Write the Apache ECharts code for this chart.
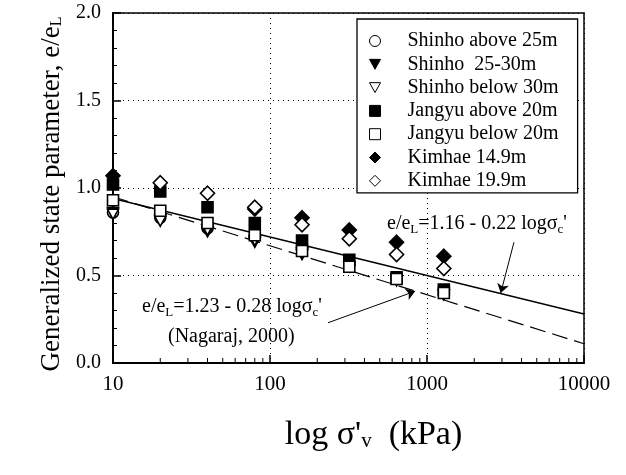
<!DOCTYPE html>
<html>
<head>
<meta charset="utf-8">
<script src="https://cdn.jsdelivr.net/npm/echarts@6/dist/echarts.min.js"></script>
<style>
  html, body { margin: 0; padding: 0; background: #fff; }
  #chart { width: 626px; height: 475px; }
</style>
</head>
<body>
<div id="chart"></div>
<script>
// stress levels (kPa)
const stress = [10, 20, 40, 80, 160, 320, 640, 1280];

// e/eL, null = no point
const shinhoAbove = [0.86, 0.83, 0.77, 0.72, 0.65, 0.56, null, null];
const shinho2530 = [0.86, 0.82, 0.75, 0.69, 0.62, 0.55, 0.47, 0.39];
const shinhoBelow = [0.85, 0.81, 0.76, 0.70, 0.63, null, null, null];
const jangyuAbove = [1.02, 0.98, 0.89, 0.80, 0.70, 0.59, 0.49, 0.42];
const jangyuBelow = [0.93, 0.87, 0.80, 0.73, 0.64, 0.55, 0.48, 0.40];
const kimhae149 = [1.07, null, null, 0.88, 0.83, 0.76, 0.69, 0.61];
const kimhae199 = [null, 1.03, 0.97, 0.89, 0.79, 0.71, 0.62, 0.54];

// fit lines, end points
const fitThisStudy = [[10, 0.94], [10000, 0.28]];   // 1.16 - 0.22 log
const fitNagaraj = [[10, 0.95], [10000, 0.11]];     // 1.23 - 0.28 log

const yTicks = ["0.0", "0.5", "1.0", "1.5", "2.0"];
const xTicks = { 10: "10", 100: "100", 1000: "1000", 10000: "10000" };
const xMinorTicks = [20, 30, 40, 50, 60, 70, 80, 90, 200, 300, 400, 500, 600, 700, 800, 900,
    2000, 3000, 4000, 5000, 6000, 7000, 8000, 9000];

const FONT = "Liberation Serif";
const TRI_DOWN = "path://M0,0L10,0L5,9Z";

function pairs(vals) {
    let out = [];
    vals.forEach((v, i) => { if (v !== null) out.push([stress[i], v]); });
    return out;
}

function scatter(name, vals, symbol, size, filled) {
    return {
        name: name,
        type: "scatter",
        data: pairs(vals),
        symbol: symbol,
        symbolSize: size,
        itemStyle: {
            color: filled ? "#000" : "#fff",
            borderColor: "#000",
            borderWidth: 1.6,
            opacity: 1
        },
        z: 3
    };
}

function legendItem(name, icon, filled) {
    return {
        name: name,
        icon: icon,
        itemStyle: { color: filled ? "#000" : "#fff", borderColor: "#000", borderWidth: 1 }
    };
}

// rich text with a dropped subscript
function subRich(size, subSize, drop) {
    return {
        m: { fontFamily: FONT, fontSize: size, lineHeight: size, verticalAlign: "top", color: "#000" },
        s: { fontFamily: FONT, fontSize: subSize, lineHeight: size, verticalAlign: "top", padding: [drop, 0, 0, 0], color: "#000" }
    };
}

let chart = echarts.init(document.getElementById("chart"));

let option = {
    animation: false,
    textStyle: { fontFamily: FONT, color: "#000" },
    grid: {
        left: 113, right: 42, top: 13, bottom: 112,
        show: true, borderColor: "#000", borderWidth: 1.5
    },
    legend: {
        orient: "vertical",
        left: 357,
        top: 19,
        data: [
            legendItem("Shinho above 25m", "circle", false),
            legendItem("Shinho  25-30m", TRI_DOWN, true),
            legendItem("Shinho below 30m", TRI_DOWN, false),
            legendItem("Jangyu above 20m", "rect", true),
            legendItem("Jangyu below 20m", "rect", false),
            legendItem("Kimhae 14.9m", "diamond", true),
            legendItem("Kimhae 19.9m", "diamond", false)
        ],
        backgroundColor: "#fff",
        borderColor: "#000",
        borderWidth: 1.3,
        padding: [12, 19, 2, 12],
        itemGap: 3.3,
        itemWidth: 11,
        itemHeight: 11,
        textStyle: { fontFamily: FONT, fontSize: 20, color: "#000", lineHeight: 20, padding: [0, 0, 0, 22] }
    },
    xAxis: {
        type: "log",
        logBase: 10,
        min: 10,
        max: 10000,
        name: "{m|log σ'}{s|v}{m|  (kPa)}",
        nameLocation: "middle",
        nameGap: 55,
        nameTextStyle: {
            padding: [0, 0, 0, 50],
            rich: subRich(34, 21, 13)
        },
        axisLine: { lineStyle: { color: "#000", width: 2 } },
        axisTick: { inside: true, length: 8, lineStyle: { color: "#000", width: 1.5 } },
        axisLabel: {
            fontFamily: FONT, fontSize: 21, color: "#000", margin: 11,
            formatter: v => xTicks[Math.round(v)] || ""
        },
        splitLine: { show: true, lineStyle: { color: "#000", type: [1, 4], width: 1 } }
    },
    yAxis: {
        type: "value",
        min: 0,
        max: 2,
        interval: 0.5,
        name: "{m|Generalized state parameter, e/e}{s|L}",
        nameLocation: "middle",
        nameGap: 40,
        nameTextStyle: {
            padding: [0, 12, 0, 0],
            rich: subRich(27, 16, 11)
        },
        axisLine: { show: true, lineStyle: { color: "#000", width: 2 } },
        axisTick: { show: true, inside: true, length: 8, lineStyle: { color: "#000", width: 1.5 } },
        minorTick: { show: true, splitNumber: 5, length: 4, lineStyle: { color: "#000", width: 1 } },
        axisLabel: {
            fontFamily: FONT, fontSize: 20, color: "#000", margin: 12,
            formatter: v => yTicks[Math.round(v / 0.5)]
        },
        splitLine: { show: true, lineStyle: { color: "#000", type: [1, 4], width: 1 } }
    },
    graphic: [
        {
            type: "text", left: 387, top: 214, z: 10,
            style: {
                text: "{m|e/e}{s|L}{m|=1.16 - 0.22 logσ}{s|c}{m|'}",
                rich: subRich(20, 13, 9)
            }
        },
        {
            type: "text", left: 142, top: 297, z: 10,
            style: {
                text: "{m|e/e}{s|L}{m|=1.23 - 0.28 logσ}{s|c}{m|'}",
                rich: subRich(20, 13, 9)
            }
        },
        {
            type: "text", left: 168, top: 327, z: 10,
            style: { text: "(Nagaraj, 2000)", font: "20px " + FONT, fill: "#000" }
        }
    ],
    series: [
        scatter("Shinho above 25m", shinhoAbove, "circle", 11, false),
        scatter("Shinho  25-30m", shinho2530, TRI_DOWN, [11, 10], true),
        scatter("Shinho below 30m", shinhoBelow, TRI_DOWN, [11, 10], false),
        scatter("Jangyu above 20m", jangyuAbove, "rect", 11, true),
        scatter("Jangyu below 20m", jangyuBelow, "rect", 11, false),
        scatter("Kimhae 14.9m", kimhae149, "diamond", 14, true),
        scatter("Kimhae 19.9m", kimhae199, "diamond", 14, false),
        {
            name: "fit this study",
            type: "line",
            data: fitThisStudy,
            symbol: "none",
            lineStyle: { color: "#000", width: 1.3 },
            z: 2,
            markLine: {
                silent: true,
                symbol: ["none", "arrow"],
                symbolSize: 9,
                label: { show: false },
                lineStyle: { color: "#000", width: 1, type: "solid" },
                data: [[{ coord: [3580, 0.69] }, { coord: [2950, 0.40] }]]
            }
        },
        {
            name: "fit Nagaraj",
            type: "line",
            data: fitNagaraj,
            symbol: "none",
            lineStyle: { color: "#000", width: 1.2, type: [16, 7] },
            z: 2,
            markLine: {
                silent: true,
                symbol: ["none", "arrow"],
                symbolSize: 9,
                label: { show: false },
                lineStyle: { color: "#000", width: 1, type: "solid" },
                data: [[{ coord: [234, 0.23] }, { coord: [840, 0.41] }]]
            }
        },
        {
            name: "minor ticks",
            type: "custom",
            silent: true,
            data: xMinorTicks.map(v => [v, 0]),
            renderItem: function (params, api) {
                let p = api.coord([api.value(0), 0]);
                return {
                    type: "line",
                    shape: { x1: p[0], y1: p[1], x2: p[0], y2: p[1] - 5 },
                    style: { stroke: "#000", lineWidth: 1 }
                };
            },
            z: 4
        }
    ]
};

chart.setOption(option);
</script>
</body>
</html>
